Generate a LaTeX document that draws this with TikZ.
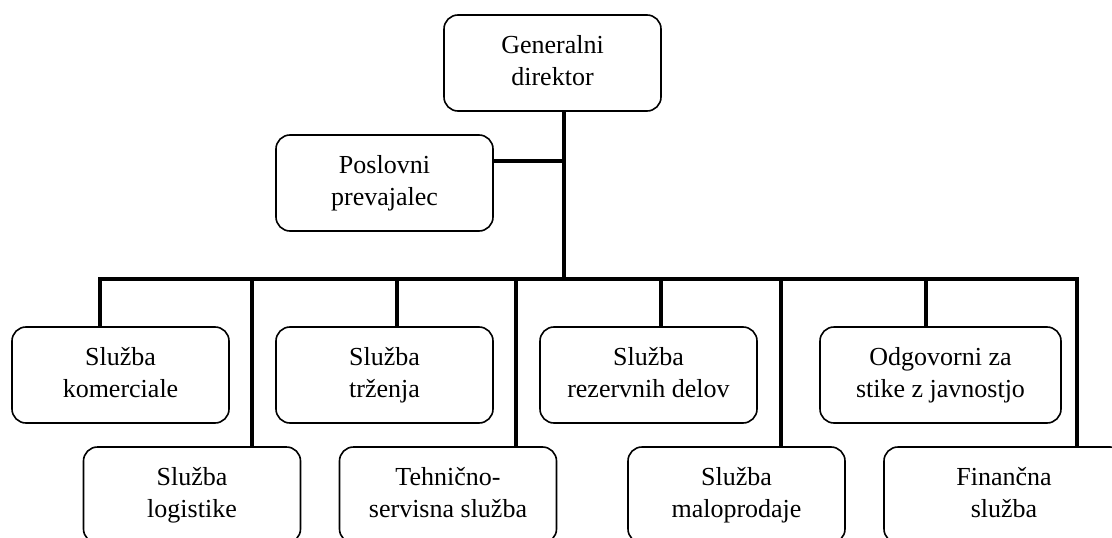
\documentclass[tikz,border=0pt]{standalone}
\usepackage{fontspec}
\setmainfont{Liberation Serif}
\begin{document}
\begin{tikzpicture}[x=1pt,y=-1pt,
  orgbox/.style={draw, line width=1.6pt, rounded corners=14pt, minimum width=217pt,
    minimum height=96pt, align=center, inner sep=0pt, fill=white,
    font=\fontsize{26}{31.7}\selectfont},
  link/.style={line width=4.4pt, line join=miter}]
\useasboundingbox (0,0) rectangle (1112,538);
% boxes
\node[orgbox] (gd) at (552.5,63) {\strut Generalni\\\strut direktor};
\node[orgbox] (pp) at (384.5,183) {\strut Poslovni\\\strut prevajalec};
\node[orgbox] (kom) at (120.5,375) {\strut Služba\\\strut komerciale};
\node[orgbox] (trz) at (384.5,375) {\strut Služba\\\strut trženja};
\node[orgbox] (rez) at (648.5,375) {\strut Služba\\\strut rezervnih delov};
\node[orgbox, minimum width=241pt] (odg) at (940.5,375) {\strut Odgovorni za\\\strut stike z javnostjo};
\node[orgbox] (log) at (192,495) {\strut Služba\\\strut logistike};
\node[orgbox] (teh) at (448,495) {\strut Tehnično-\\\strut servisna služba};
\node[orgbox] (mal) at (736.5,495) {\strut Služba\\\strut maloprodaje};
\node[orgbox, minimum width=240pt] (fin) at (1004,495) {\strut Finančna\\\strut služba};
% bus coordinates
\coordinate (tr) at (564,279);
\coordinate (pc) at (564,161);
\coordinate (b1) at (100,279);
\coordinate (b2) at (252,279);
\coordinate (b3) at (397,279);
\coordinate (b4) at (516,279);
\coordinate (b5) at (661,279);
\coordinate (b6) at (781,279);
\coordinate (b7) at (926,279);
\coordinate (b8) at (1077,279);
% connectors
\draw[link] (gd.south -| tr) -- (tr);
\draw[link] (pc -| pp.east) -- (pc);
\draw[link] (kom.north -| b1) -- (b1) -- (b8) -- (fin.north -| b8);
\draw[link] (b2) -- (b2 |- log.north);
\draw[link] (b3) -- (b3 |- trz.north);
\draw[link] (b4) -- (b4 |- teh.north);
\draw[link] (b5) -- (b5 |- rez.north);
\draw[link] (b6) -- (b6 |- mal.north);
\draw[link] (b7) -- (b7 |- odg.north);
\end{tikzpicture}
\end{document}
